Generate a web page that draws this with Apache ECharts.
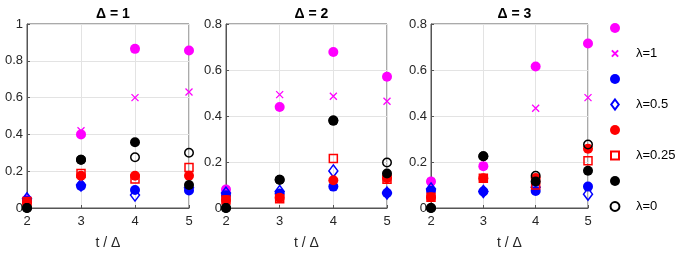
<!DOCTYPE html>
<html><head><meta charset="utf-8">
<script src="https://cdn.jsdelivr.net/npm/echarts@6/dist/echarts.min.js"></script>
<style>html,body{margin:0;padding:0;background:#fff}#c{width:683px;height:255px}</style>
</head><body><div id="c"></div>
<script>
const tVals = [2, 3, 4, 5];
const panelTitles = ['Δ = 1', 'Δ = 2', 'Δ = 3'];
const yMaxes = [1, 0.8, 0.8];
const legendLabels = ['', 'λ=1', '', 'λ=0.5', '', 'λ=0.25', '', 'λ=0'];

// Panel 1 (Δ = 1)
const magSim1 = [0.045, 0.40, 0.865, 0.856];
const magTh1  = [0.04, 0.42, 0.60, 0.63];
const bluSim1 = [0.04, 0.12, 0.098, 0.095];
const bluTh1  = [0.05, 0.125, 0.07, 0.11];
const redSim1 = [0.03, 0.175, 0.175, 0.175];
const redTh1  = [0.035, 0.187, 0.157, 0.22];
const blkSim1 = [0, 0.262, 0.357, 0.125];
const blkTh1  = [0, 0.262, 0.276, 0.30];
// Panel 2 (Δ = 2)
const magSim2 = [0.08, 0.439, 0.678, 0.571];
const magTh2  = [0.08, 0.493, 0.486, 0.464];
const bluSim2 = [0.055, 0.063, 0.093, 0.065];
const bluTh2  = [0.065, 0.072, 0.161, 0.065];
const redSim2 = [0.035, 0.045, 0.121, 0.13];
const redTh2  = [0.035, 0.04, 0.215, 0.125];
const blkSim2 = [0, 0.123, 0.38, 0.15];
const blkTh2  = [0, 0.123, 0.38, 0.198];
// Panel 3 (Δ = 3)
const magSim3 = [0.115, 0.182, 0.615, 0.715];
const magTh3  = [0.115, 0.182, 0.434, 0.48];
const bluSim3 = [0.075, 0.072, 0.074, 0.093];
const bluTh3  = [0.083, 0.072, 0.09, 0.06];
const redSim3 = [0.047, 0.129, 0.13, 0.258];
const redTh3  = [0.047, 0.129, 0.10, 0.205];
const blkSim3 = [0, 0.225, 0.115, 0.162];
const blkTh3  = [0, 0.225, 0.14, 0.276];

const panels = [
  [magSim1, magTh1, bluSim1, bluTh1, redSim1, redTh1, blkSim1, blkTh1],
  [magSim2, magTh2, bluSim2, bluTh2, redSim2, redTh2, blkSim2, blkTh2],
  [magSim3, magTh3, bluSim3, bluTh3, redSim3, redTh3, blkSim3, blkTh3]
];

const FONT = 'Liberation Sans';
const TXT = '#262626';
const X_PATH = 'path://M0,0L10,10M10,0L0,10';
// legend icons padded so they render at the reference's relative sizes
const styles = [
  {name: 'm_sim', symbol: 'circle', size: 10, icon: 'circle', itemStyle: {color: '#ff00ff', opacity: 1}},
  {name: 'm_th', symbol: X_PATH, size: 7, icon: 'path://M-2,-2L-2,-2M1,1L11,11M11,1L1,11M14,14L14,14', itemStyle: {color: 'transparent', borderColor: '#ff00ff', borderWidth: 1.3, opacity: 1}},
  {name: 'b_sim', symbol: 'circle', size: 10, icon: 'circle', itemStyle: {color: '#0000ff', opacity: 1}},
  {name: 'b_th', symbol: 'diamond', size: [9, 12], icon: 'path://M-0.5,1L-0.5,1M4,0L8.5,6L4,12L-0.5,6ZM8.5,11L8.5,11', itemStyle: {color: 'transparent', borderColor: '#0000ff', borderWidth: 1.5, opacity: 1}},
  {name: 'r_sim', symbol: 'circle', size: 10, icon: 'circle', itemStyle: {color: '#ff0000', opacity: 1}},
  {name: 'r_th', symbol: 'rect', size: 8, icon: 'path://M-1,-1L-1,-1M0,0L8,0L8,8L0,8ZM9,9L9,9', itemStyle: {color: 'transparent', borderColor: '#ff0000', borderWidth: 1.5, opacity: 1}},
  {name: 'k_sim', symbol: 'circle', size: 10, icon: 'circle', itemStyle: {color: '#000000', opacity: 1}},
  {name: 'k_th', symbol: 'circle', size: 8.5, icon: 'path://M-0.5,-0.5L-0.5,-0.5M4,0A4,4 0 1 1 3.99,0ZM8.5,8.5L8.5,8.5', itemStyle: {color: 'transparent', borderColor: '#000000', borderWidth: 1.5, opacity: 1}}
];

const grids = [
  {left: 27, top: 24, width: 162, height: 187},
  {left: 226, top: 24, width: 161, height: 187},
  {left: 431, top: 24, width: 157, height: 186}
];

const option = {
  animation: false,
  backgroundColor: '#fff',
  textStyle: {fontFamily: FONT},
  title: grids.map((g, i) => ({
    text: panelTitles[i],
    left: g.left + g.width / 2, top: 2, textAlign: 'center',
    textStyle: {fontFamily: FONT, fontSize: 14, fontWeight: 'bold', color: '#000'}
  })),
  grid: grids.map(g => Object.assign({show: true, borderColor: '#555', borderWidth: 1, backgroundColor: '#fff'}, g)),
  xAxis: grids.map((g, i) => ({
    type: 'value', gridIndex: i, min: 2, max: 5, interval: 1,
    name: 't / Δ', nameLocation: 'middle', nameGap: 28,
    nameTextStyle: {fontFamily: FONT, fontSize: 14, color: TXT},
    axisLine: {show: true, lineStyle: {color: '#555'}},
    axisTick: {show: true, inside: true, length: 3, lineStyle: {color: '#555'}},
    axisLabel: {fontFamily: FONT, fontSize: 13, color: TXT, margin: 7},
    splitLine: {show: true, lineStyle: {color: '#e3e3e3'}}
  })),
  yAxis: grids.map((g, i) => ({
    type: 'value', gridIndex: i, min: 0, max: yMaxes[i], interval: 0.2,
    axisLine: {show: true, lineStyle: {color: '#555'}},
    axisTick: {show: true, inside: true, length: 3, lineStyle: {color: '#555'}},
    axisLabel: {fontFamily: FONT, fontSize: 13, color: TXT, margin: 4,
      formatter: v => String(Math.round(v * 10) / 10)},
    splitLine: {show: true, lineStyle: {color: '#e3e3e3'}}
  })),
  legend: {
    orient: 'vertical', left: 604, top: 18, itemGap: 14,
    itemWidth: 10, itemHeight: 10, padding: 5,
    data: styles.map(s => ({name: s.name, icon: s.icon})),
    formatter: name => legendLabels[styles.findIndex(s => s.name === name)],
    textStyle: {fontFamily: FONT, fontSize: 13, color: '#000', padding: [0, 0, 0, 11]},
    selectedMode: false
  },
  series: []
};

panels.forEach((arrs, p) => {
  arrs.forEach((vals, k) => {
    const s = styles[k];
    option.series.push({
      type: 'scatter', name: s.name, xAxisIndex: p, yAxisIndex: p,
      symbol: s.symbol, symbolSize: s.size, itemStyle: s.itemStyle,
      z: 2 + k * 0.01,
      data: tVals.map((t, j) => [t, vals[j]]),
      clip: false
    });
  });
});

const chart = echarts.init(document.getElementById('c'), null, {renderer: 'canvas'});
chart.setOption(option);
</script>
</body></html>
